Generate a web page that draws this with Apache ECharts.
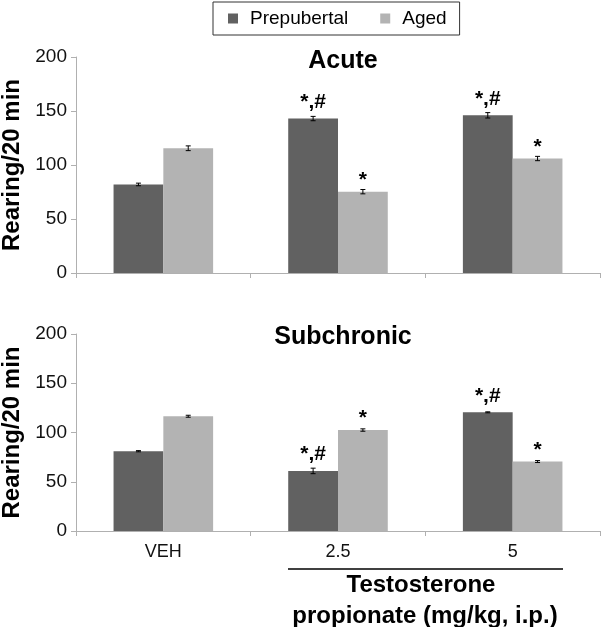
<!DOCTYPE html>
<html>
<head>
<meta charset="utf-8">
<script src="https://cdn.jsdelivr.net/npm/echarts@6/dist/echarts.min.js"></script>
<style>
html,body{margin:0;padding:0;background:#fff;}
#chart{width:602px;height:627px;}
</style>
</head>
<body>
<div id="chart"></div>
<script>
var categories = ['VEH', '2.5', '5'];
var seriesNames = ['Prepubertal', 'Aged'];
var yTicks = [0, 50, 100, 150, 200];

var acutePre = [82, 143, 146];
var acutePreErr = [1.2, 2, 2.5];
var acuteAged = [115.5, 75.3, 106];
var acuteAgedErr = [2.2, 2, 2];
var acutePreSig = ['', '*,#', '*,#'];
var acuteAgedSig = ['', '*', '*'];

var subPre = [81, 61, 120.5];
var subPreErr = [0.6, 2.8, 0.5];
var subAged = [116.5, 102.5, 70.5];
var subAgedErr = [1, 1.2, 1];
var subPreSig = ['', '*,#', '*,#'];
var subAgedSig = ['', '*', '*'];

var FONT = '"Liberation Sans", Arial, Helvetica, sans-serif';
var DARK = '#616161', LIGHT = '#b3b3b3';
var CAT_GAP = 0.43;

var chart = echarts.init(document.getElementById('chart'), null, {renderer: 'canvas'});

function errData(vals, errs, side) {
  return vals.map(function (v, i) { return [i, v, errs[i], side]; });
}
function errRender(params, api) {
  var i = api.value(0), v = api.value(1), e = api.value(2), side = api.value(3);
  var c = api.coord([i, v]);
  var bw = api.size([1, 0])[0] * (1 - CAT_GAP) / 2;
  var cx = c[0] + side * bw / 2;
  var hi = api.coord([i, v + e])[1];
  var lo = api.coord([i, v - e])[1];
  var st = {stroke: '#000', lineWidth: 1};
  return {type: 'group', children: [
    {type: 'line', shape: {x1: cx, y1: hi, x2: cx, y2: lo}, style: st},
    {type: 'line', shape: {x1: cx - 2.5, y1: hi, x2: cx + 2.5, y2: hi}, style: st},
    {type: 'line', shape: {x1: cx - 2.5, y1: lo, x2: cx + 2.5, y2: lo}, style: st}
  ]};
}
function barSeries(name, vals, sig, color, gi) {
  return {
    type: 'bar', name: name, xAxisIndex: gi, yAxisIndex: gi,
    data: vals.map(function (v, i) {
      return {value: v, label: {distance: sig[i] === '*' ? 1 : 6}};
    }),
    barGap: '0%', barCategoryGap: (CAT_GAP * 100) + '%',
    itemStyle: {color: color},
    label: {show: true, position: 'top',
      formatter: function (p) { return sig[p.dataIndex]; },
      color: '#000', fontFamily: FONT, fontWeight: 'bold', fontSize: 21},
    z: 2
  };
}
function errSeries(vals, errs, side, gi) {
  return {type: 'custom', xAxisIndex: gi, yAxisIndex: gi, data: errData(vals, errs, side),
    renderItem: errRender, encode: {x: 0, y: 1}, z: 3, silent: true};
}
function xAxis(gi, showLabels) {
  return {type: 'category', gridIndex: gi, data: categories,
    axisLine: {lineStyle: {color: '#b0b0b0', width: 1}},
    axisTick: {show: true, length: 5, lineStyle: {color: '#b0b0b0'}},
    axisLabel: {show: showLabels, color: '#111', fontFamily: FONT, fontSize: 18, margin: 12}};
}
function yAxis(gi) {
  return {type: 'value', gridIndex: gi, min: 0, max: 200, interval: 50,
    name: 'Rearing/20 min', nameLocation: 'middle', nameRotate: 90, nameGap: 52,
    nameTextStyle: {color: '#000', fontFamily: FONT, fontWeight: 'bold', fontSize: 24},
    axisLine: {show: true, lineStyle: {color: '#b0b0b0', width: 1}},
    axisTick: {show: true, length: 5, lineStyle: {color: '#b0b0b0'}},
    splitLine: {show: false},
    axisLabel: {color: '#111', fontFamily: FONT, fontSize: 19, margin: 9,
      formatter: function (v) { return yTicks.indexOf(v) >= 0 ? String(v) : ''; }}};
}

chart.setOption({
  animation: false,
  backgroundColor: '#fff',
  textStyle: {fontFamily: FONT},
  title: [
    {text: 'Acute', left: 338, top: 44, textAlign: 'center',
      textStyle: {fontFamily: FONT, fontWeight: 'bold', fontSize: 25, color: '#000'}},
    {text: 'Subchronic', left: 338, top: 320, textAlign: 'center',
      textStyle: {fontFamily: FONT, fontWeight: 'bold', fontSize: 25, color: '#000'}}
  ],
  legend: {
    data: seriesNames, left: 213, top: 2, orient: 'horizontal',
    icon: 'rect', itemWidth: 10, itemHeight: 10, itemGap: 32,
    borderColor: '#333', borderWidth: 1, padding: [7, 13, 7, 15],
    textStyle: {fontFamily: FONT, fontSize: 19, color: '#000', padding: [0, 0, 0, 7]}
  },
  grid: [
    {left: 76, top: 57, width: 524, height: 216, containLabel: false, outerBoundsMode: 'none'},
    {left: 76, top: 334, width: 524, height: 197, containLabel: false, outerBoundsMode: 'none'}
  ],
  xAxis: [xAxis(0, false), xAxis(1, true)],
  yAxis: [yAxis(0), yAxis(1)],
  series: [
    barSeries(seriesNames[0], acutePre, acutePreSig, DARK, 0),
    barSeries(seriesNames[1], acuteAged, acuteAgedSig, LIGHT, 0),
    errSeries(acutePre, acutePreErr, -1, 0),
    errSeries(acuteAged, acuteAgedErr, 1, 0),
    barSeries(seriesNames[0], subPre, subPreSig, DARK, 1),
    barSeries(seriesNames[1], subAged, subAgedSig, LIGHT, 1),
    errSeries(subPre, subPreErr, -1, 1),
    errSeries(subAged, subAgedErr, 1, 1)
  ],
  graphic: [
    {type: 'line', shape: {x1: 288, y1: 569, x2: 563, y2: 569}, style: {stroke: '#000', lineWidth: 1.5}},
    {type: 'text', x: 421, y: 573, style: {text: 'Testosterone', fontFamily: FONT, fontWeight: 'bold', fontSize: 24, fill: '#000', align: 'center', verticalAlign: 'top'}},
    {type: 'text', x: 425, y: 604, style: {text: 'propionate (mg/kg, i.p.)', fontFamily: FONT, fontWeight: 'bold', fontSize: 24, fill: '#000', align: 'center', verticalAlign: 'top'}}
  ]
});
</script>
</body>
</html>
